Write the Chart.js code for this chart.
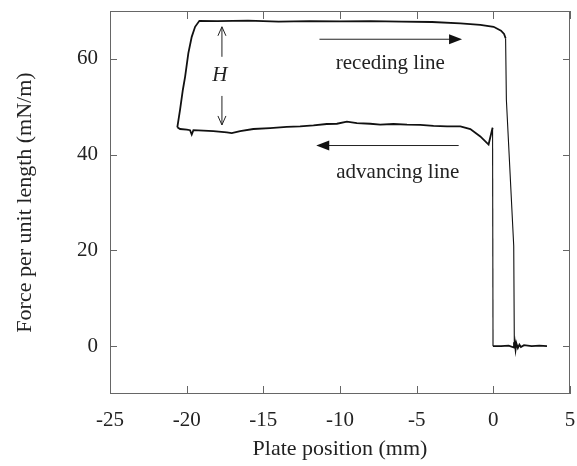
<!DOCTYPE html>
<html>
<head>
<meta charset="utf-8">
<script src="https://cdn.jsdelivr.net/npm/chart.js@4/dist/chart.umd.min.js"></script>
<style>
  html, body { margin: 0; padding: 0; background: #fff; }
  #wrap { width: 577px; height: 466px; }
</style>
</head>
<body>
<div id="wrap"><canvas id="forceChart"></canvas></div>
<script>
// tick values
const xTicks = [-25, -20, -15, -10, -5, 0, 5];
const yTicks = [0, 20, 40, 60];

// baseline, plate not touching (right end, force ~0)
const baseX = [3.5, 3.0, 2.5, 2.0, 1.8, 1.7, 1.6, 1.5, 1.45, 1.4, 1.35, 1.0, 0.5, -0.02];
const baseY = [0.0, 0.1, 0.0, 0.2, -0.2, 0.3, -0.4, 0.6, -0.7, 0.8, -0.3, 0.1, 0.0, 0.0];

// jump up at contact, then advancing line going left
const advX = [-0.02, -0.05, -0.31, -0.85, -1.5, -2.15, -3.02, -3.9, -4.77, -5.63, -6.51, -7.38, -8.03, -8.9, -9.55, -10.2, -10.86, -11.73, -12.6, -13.47, -14.56, -15.65, -16.51, -17.06, -17.38, -18.26, -18.91, -19.56, -19.67, -19.78, -19.99, -20.43, -20.61];
const advY = [0.0, 45.6, 42.1, 43.8, 45.35, 45.9, 45.9, 46.0, 46.2, 46.25, 46.4, 46.25, 46.45, 46.6, 46.9, 46.45, 46.4, 46.1, 45.9, 45.8, 45.55, 45.35, 44.9, 44.5, 44.65, 44.9, 45.0, 45.1, 44.2, 45.1, 45.2, 45.35, 45.7];

// reversal, receding line going right, then detachment
const recX = [-20.61, -20.43, -20.25, -20.1, -19.89, -19.67, -19.45, -19.17, -18.0, -16.0, -14.0, -12.0, -10.0, -8.0, -6.0, -4.0, -2.15, -0.85, 0.02, 0.5, 0.7, 0.8, 0.85, 1.33, 1.37];
const recY = [45.7, 49.4, 53.5, 56.3, 61.2, 64.6, 66.7, 67.95, 67.9, 68.0, 67.8, 67.9, 67.85, 67.9, 67.8, 67.7, 67.4, 67.1, 66.7, 65.9, 65.2, 64.3, 51.5, 20.9, 0.0];

// annotation positions in data units
const recArrow = [-11.34, -2.04, 64.1];
const advArrow = [-2.26, -11.55, 41.9];
const recLabel = [-6.72, 59.1];
const advLabel = [-6.23, 36.3];
const hMark = [-17.7, 66.7, 46.2];

function pts(xs, ys) {
  return xs.map((x, i) => ({ x: x, y: ys[i] }));
}

const serif = "'Liberation Serif', 'DejaVu Serif', serif";
const ink = '#111';

function arrowHead(ctx, x, y, dir) {
  ctx.beginPath();
  ctx.moveTo(x, y);
  ctx.lineTo(x - dir * 13, y - 5);
  ctx.lineTo(x - dir * 13, y + 5);
  ctx.closePath();
  ctx.fill();
}

function noPad(s) {
  s.paddingLeft = 0; s.paddingRight = 0; s.paddingTop = 0; s.paddingBottom = 0;
}

const decor = {
  id: 'decor',
  afterDraw(chart) {
    const ctx = chart.ctx;
    const a = chart.chartArea;
    const xs = chart.scales.x, ys = chart.scales.y;
    ctx.save();
    // frame
    ctx.strokeStyle = '#666';
    ctx.lineWidth = 1;
    ctx.strokeRect(a.left + 0.5, a.top + 0.5, a.right - a.left - 1, a.bottom - a.top - 1);
    // inward ticks
    ctx.beginPath();
    xTicks.forEach(v => {
      const px = Math.round(xs.getPixelForValue(v)) + 0.5;
      ctx.moveTo(px, a.bottom); ctx.lineTo(px, a.bottom - 8);
      ctx.moveTo(px, a.top); ctx.lineTo(px, a.top + 8);
    });
    yTicks.forEach(v => {
      const py = Math.round(ys.getPixelForValue(v)) + 0.5;
      ctx.moveTo(a.left, py); ctx.lineTo(a.left + 7, py);
      ctx.moveTo(a.right, py); ctx.lineTo(a.right - 7, py);
    });
    ctx.stroke();

    // receding / advancing arrows
    ctx.strokeStyle = '#222';
    ctx.fillStyle = '#111';
    ctx.lineWidth = 1;
    let y1 = ys.getPixelForValue(recArrow[2]);
    let x0 = xs.getPixelForValue(recArrow[0]), x1 = xs.getPixelForValue(recArrow[1]);
    ctx.beginPath(); ctx.moveTo(x0, y1); ctx.lineTo(x1 - 10, y1); ctx.stroke();
    arrowHead(ctx, x1, y1, 1);
    y1 = ys.getPixelForValue(advArrow[2]);
    x0 = xs.getPixelForValue(advArrow[0]); x1 = xs.getPixelForValue(advArrow[1]);
    ctx.beginPath(); ctx.moveTo(x0, y1); ctx.lineTo(x1 + 10, y1); ctx.stroke();
    arrowHead(ctx, x1, y1, -1);

    // H double arrow
    const hx = xs.getPixelForValue(hMark[0]);
    const hTop = ys.getPixelForValue(hMark[1]);
    const hBot = ys.getPixelForValue(hMark[2]);
    ctx.beginPath();
    ctx.moveTo(hx, hTop); ctx.lineTo(hx, hTop + 30);
    ctx.moveTo(hx - 4, hTop + 9); ctx.lineTo(hx, hTop); ctx.lineTo(hx + 4, hTop + 9);
    ctx.moveTo(hx, hBot); ctx.lineTo(hx, hBot - 29);
    ctx.moveTo(hx - 4, hBot - 9); ctx.lineTo(hx, hBot); ctx.lineTo(hx + 4, hBot - 9);
    ctx.stroke();

    // labels
    ctx.fillStyle = '#222';
    ctx.textAlign = 'center';
    ctx.textBaseline = 'middle';
    ctx.font = '21px ' + serif;
    ctx.fillText('receding line', xs.getPixelForValue(recLabel[0]), ys.getPixelForValue(recLabel[1]));
    ctx.fillText('advancing line', xs.getPixelForValue(advLabel[0]), ys.getPixelForValue(advLabel[1]));
    ctx.font = 'italic 21px ' + serif;
    ctx.fillText('H', hx - 2, (hTop + hBot) / 2);
    ctx.restore();
  }
};

// steep jumps are drawn thin, the flat branches thicker
const lineStyle = {
  showLine: true, pointRadius: 0, borderColor: ink, fill: false, tension: 0,
  segment: { borderWidth: c => Math.abs(c.p1.parsed.y - c.p0.parsed.y) > 8 ? 1.1 : 1.8 }
};

new Chart(document.getElementById('forceChart'), {
  type: 'scatter',
  data: {
    datasets: [
      Object.assign({ label: 'baseline', data: pts(baseX, baseY), borderWidth: 1.6 }, lineStyle),
      Object.assign({ label: 'advancing', data: pts(advX, advY), borderWidth: 1.8 }, lineStyle),
      Object.assign({ label: 'receding', data: pts(recX, recY), borderWidth: 1.8 }, lineStyle)
    ]
  },
  options: {
    responsive: true,
    maintainAspectRatio: false,
    animation: false,
    layout: { padding: { top: 11, right: 7, left: 0, bottom: 0 } },
    plugins: { legend: { display: false }, tooltip: { enabled: false } },
    scales: {
      x: {
        type: 'linear',
        min: -25, max: 5,
        afterBuildTicks: s => { s.ticks = xTicks.map(v => ({ value: v })); },
        afterFit: s => { s.height = 72; noPad(s); },
        grid: { display: false, drawTicks: false },
        border: { display: false },
        ticks: { color: '#222', padding: 14, font: { family: serif, size: 21 } },
        title: { display: true, text: 'Plate position (mm)', color: '#222', padding: { top: 4 }, font: { family: serif, size: 22 } }
      },
      y: {
        type: 'linear',
        min: -10, max: 70,
        afterBuildTicks: s => { s.ticks = yTicks.map(v => ({ value: v })); },
        afterFit: s => { s.width = 110; noPad(s); },
        grid: { display: false, drawTicks: false },
        border: { display: false },
        ticks: { color: '#222', padding: 12, font: { family: serif, size: 21 } },
        title: { display: true, text: 'Force per unit length (mN/m)', color: '#222', padding: { top: 12 }, font: { family: serif, size: 22 } }
      }
    }
  },
  plugins: [decor]
});
</script>
</body>
</html>
